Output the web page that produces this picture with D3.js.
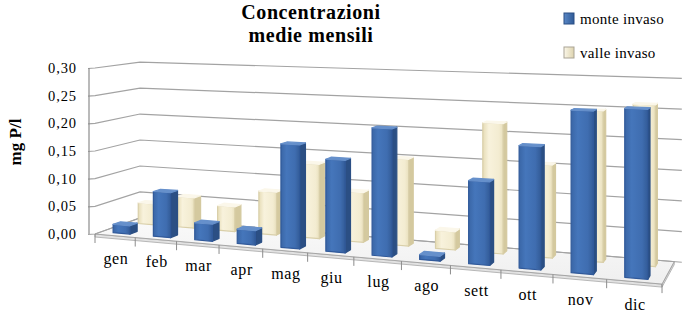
<!DOCTYPE html>
<html>
<head>
<meta charset="utf-8">
<script src="https://cdn.jsdelivr.net/npm/d3@7"></script>
<style>
  html, body { margin: 0; padding: 0; background: #ffffff; }
  svg { display: block; }
  text { font-family: "Liberation Serif", "Times New Roman", serif; fill: #000; }
</style>
</head>
<body>
<script>
// Monthly mean concentrations (mg P/l), upstream and downstream of the reservoir
const months = ["gen", "feb", "mar", "apr", "mag", "giu", "lug", "ago", "sett", "ott", "nov", "dic"];
const monteInvaso = [0.015, 0.080, 0.030, 0.025, 0.178, 0.156, 0.213, 0.008, 0.135, 0.196, 0.256, 0.262];
const valleInvaso = [0.039, 0.056, 0.045, 0.077, 0.132, 0.087, 0.150, 0.031, 0.219, 0.154, 0.247, 0.260];
const seriesNames = ["monte invaso", "valle invaso"];
const yTicks = [0, 0.05, 0.10, 0.15, 0.20, 0.25, 0.30];
const titleLines = ["Concentrazioni", "medie mensili"];
const yTitle = "mg P/l";

const W = 692, H = 323;
const svg = d3.select("body").append("svg").attr("width", W).attr("height", H);
const defs = svg.append("defs");

// ---- 3D plot box: u = category axis [0..1], w = depth [0 front .. 1 back], v = value
const xBand = d3.scaleBand().domain(months).range([0, 1]).paddingInner(0.58).paddingOuter(0.29);
const zBand = d3.scaleBand().domain(seriesNames).range([0, 1]).paddingInner(0.714).paddingOuter(0.25);
const yScale = d3.scaleLinear().domain([0, 0.30]).range([0, 166]);

// two-point perspective camera (verticals stay vertical)
const cam = { a: 461.1, b: 54.1, c: 95, g: -0.16, h: 0.065, horizon: -29, eye: 263 };
function P(u, w, v) {
  const q = 1 + cam.g * u + cam.h * w;
  return [(cam.a * u + cam.b * w + cam.c) / q, cam.horizon + (cam.eye - yScale(v)) / q];
}
const poly = pts => "M" + pts.map(p => p[0].toFixed(2) + "," + p[1].toFixed(2)).join("L") + "Z";
const seg = (p, q) => "M" + p[0] + "," + p[1] + "L" + q[0] + "," + q[1];

// ---- gradients
function hGrad(id, stops) {
  const g = defs.append("linearGradient").attr("id", id).attr("x1", 0).attr("x2", 1).attr("y1", 0).attr("y2", 0);
  stops.forEach(([o, c]) => g.append("stop").attr("offset", o).attr("stop-color", c));
}
function vGrad(id, stops) {
  const g = defs.append("linearGradient").attr("id", id).attr("x1", 0).attr("x2", 0).attr("y1", 0).attr("y2", 1);
  stops.forEach(([o, c]) => g.append("stop").attr("offset", o).attr("stop-color", c));
}
hGrad("blueFront", [[0, "#3a66a6"], [0.3, "#4576bb"], [0.75, "#3f6db0"], [1, "#335c98"]]);
hGrad("creamFront", [[0, "#e6dcb6"], [0.3, "#f8f2dc"], [0.8, "#f3ecd1"], [1, "#e9e0bd"]]);
vGrad("floorFill", [[0, "#fafafa"], [1, "#efefef"]]);
hGrad("legBlue", [[0, "#5a88c6"], [1, "#2f5a96"]]);
hGrad("legCream", [[0, "#fbf7e9"], [1, "#ddd3ae"]]);

const style = {
  "monte invaso": { front: "url(#blueFront)", side: "#2b4f84", top: "#6690cb", edge: "#30599a" },
  "valle invaso": { front: "url(#creamFront)", side: "#d4c99f", top: "#fbf7ea", edge: "#d9cfa9" }
};

// ---- floor plate with a thin thickness
const floorG = svg.append("g");
const fl = [P(0, 0, 0), P(1, 0, 0), P(1, 1, 0), P(0, 1, 0)];
const thick = 3;
floorG.append("path").attr("d", poly([fl[0], fl[1], [fl[1][0], fl[1][1] + thick], [fl[0][0], fl[0][1] + thick]]))
  .attr("fill", "#e2e2e2").attr("stroke", "#a8a8a8").attr("stroke-width", 0.8);
floorG.append("path").attr("d", poly([fl[1], fl[2], [fl[2][0], fl[2][1] + thick], [fl[1][0], fl[1][1] + thick]]))
  .attr("fill", "#dadada").attr("stroke", "#a8a8a8").attr("stroke-width", 0.8);
floorG.append("path").attr("d", poly(fl)).attr("fill", "url(#floorFill)").attr("stroke", "#a6a6a6").attr("stroke-width", 1);

// ---- gridlines on the left and back walls
const gridG = svg.append("g").attr("fill", "none").attr("stroke", "#a3a3a3").attr("stroke-width", 1.2);
const axisX = P(0, 0, 0)[0] - 6;
yTicks.forEach(v => {
  const f = P(0, 0, v), bl = P(0, 1, v), br = P(1.012, 1, v);
  gridG.append("path").attr("d", seg([axisX - 1, f[1] + 0.5], f) + seg(f, bl).replace("M", "L") + seg(bl, br).replace("M", "L"));
});
// value axis line
svg.append("path").attr("d", seg([axisX, P(0, 0, 0)[1]], [axisX, P(0, 0, 0.30)[1]]))
  .attr("stroke", "#8c8c8c").attr("stroke-width", 1.2);

// category axis tick marks along the front floor edge
const tickG = svg.append("g").attr("stroke", "#8c8c8c").attr("stroke-width", 1);
d3.range(months.length + 1).forEach(k => {
  const p = P(k / months.length, 0, 0);
  tickG.append("path").attr("d", seg([p[0], p[1]], [p[0], p[1] + 9]));
});

// ---- bars: back row first, each row left to right
const seriesData = { "monte invaso": monteInvaso, "valle invaso": valleInvaso };
const barsG = svg.append("g");
["valle invaso", "monte invaso"].forEach(name => {
  const vals = seriesData[name];
  const st = style[name];
  const w0 = zBand(name), w1 = w0 + zBand.bandwidth();
  months.forEach((m, i) => {
    const v = vals[i];
    const u0 = xBand(m), u1 = u0 + xBand.bandwidth();
    const g = barsG.append("g").attr("stroke-linejoin", "round");
    const front = [P(u0, w0, 0), P(u1, w0, 0), P(u1, w0, v), P(u0, w0, v)];
    const side = [P(u1, w0, 0), P(u1, w1, 0), P(u1, w1, v), P(u1, w0, v)];
    const top = [P(u0, w0, v), P(u1, w0, v), P(u1, w1, v), P(u0, w1, v)];
    g.append("path").attr("d", poly(side)).attr("fill", st.side).attr("stroke", st.side).attr("stroke-width", 1.2);
    g.append("path").attr("d", poly(front)).attr("fill", st.front).attr("stroke", st.edge).attr("stroke-width", 1.2);
    g.append("path").attr("d", poly(top)).attr("fill", st.top).attr("stroke", st.top).attr("stroke-width", 1.2);
  });
});

// ---- category labels
const fmt = d3.formatLocale({ decimal: ",", thousands: ".", grouping: [3], currency: ["", "€"] }).format(".2f");
svg.append("g").selectAll("text").data(months).join("text")
  .attr("x", m => P(xBand(m) + xBand.bandwidth() / 2, 0, 0)[0] + 1)
  .attr("y", m => P(xBand(m) + xBand.bandwidth() / 2, 0, 0)[1] + 28)
  .attr("text-anchor", "middle").attr("font-size", 16).attr("letter-spacing", 0.6)
  .text(m => m);

// ---- value labels
svg.append("g").selectAll("text").data(yTicks).join("text")
  .attr("x", 77).attr("y", v => P(0, 0, v)[1] + 5)
  .attr("text-anchor", "end").attr("font-size", 14.5).attr("letter-spacing", 0.9)
  .text(v => fmt(v));

// axis title
svg.append("text").attr("transform", "translate(21,142) rotate(-90)")
  .attr("text-anchor", "middle").attr("font-size", 17).attr("font-weight", "bold")
  .text(yTitle);

// chart title
svg.append("g").selectAll("text").data(titleLines).join("text")
  .attr("x", 311).attr("y", (d, i) => 18.5 + i * 23)
  .attr("text-anchor", "middle").attr("font-size", 20).attr("font-weight", "bold").attr("letter-spacing", 0.6)
  .text(d => d);

// ---- legend
const legend = svg.append("g").attr("transform", "translate(564,13)");
seriesNames.forEach((name, i) => {
  const row = legend.append("g").attr("transform", `translate(0,${i * 34})`);
  row.append("rect").attr("width", 10).attr("height", 11)
    .attr("fill", i === 0 ? "url(#legBlue)" : "url(#legCream)")
    .attr("stroke", i === 0 ? "#2b4f84" : "#a9a395").attr("stroke-width", 1);
  row.append("text").attr("x", 16).attr("y", 10.5).attr("font-size", 15).attr("letter-spacing", 0.3).text(name);
});
</script>
</body>
</html>
